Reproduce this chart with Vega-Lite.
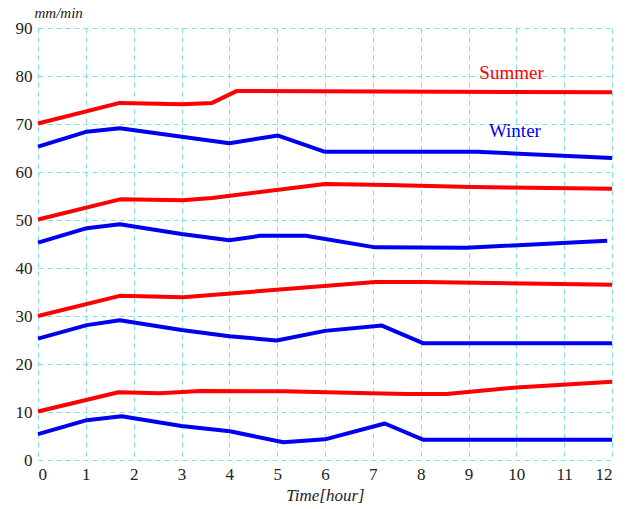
{
  "$schema": "https://vega.github.io/schema/vega-lite/v6.json",
  "width": 574,
  "height": 432,
  "autosize": {"type": "none"},
  "padding": {"left": 38, "top": 28, "right": 17, "bottom": 49},
  "background": "white",
  "config": {
    "view": {"stroke": null},
    "axis": {
      "grid": true,
      "gridColor": "#7fe0e0",
      "gridDash": [5, 4],
      "gridWidth": 1,
      "domain": false,
      "ticks": false
    }
  },
  "datasets": {
    "lines": [
      {"series": "S1", "season": "Summer", "x": 0, "y": 70.1},
      {"series": "S1", "season": "Summer", "x": 1.71, "y": 74.4},
      {"series": "S1", "season": "Summer", "x": 3.03, "y": 74.1},
      {"series": "S1", "season": "Summer", "x": 3.64, "y": 74.4},
      {"series": "S1", "season": "Summer", "x": 4.16, "y": 76.9},
      {"series": "S1", "season": "Summer", "x": 12, "y": 76.6},
      {"series": "W1", "season": "Winter", "x": 0, "y": 65.3},
      {"series": "W1", "season": "Winter", "x": 1.02, "y": 68.4},
      {"series": "W1", "season": "Winter", "x": 1.71, "y": 69.1},
      {"series": "W1", "season": "Winter", "x": 4.0, "y": 66.0},
      {"series": "W1", "season": "Winter", "x": 5.02, "y": 67.6},
      {"series": "W1", "season": "Winter", "x": 6.0, "y": 64.2},
      {"series": "W1", "season": "Winter", "x": 9.18, "y": 64.2},
      {"series": "W1", "season": "Winter", "x": 12, "y": 62.9},
      {"series": "S2", "season": "Summer", "x": 0, "y": 50.1},
      {"series": "S2", "season": "Summer", "x": 1.71, "y": 54.3},
      {"series": "S2", "season": "Summer", "x": 3.03, "y": 54.1},
      {"series": "S2", "season": "Summer", "x": 3.64, "y": 54.6},
      {"series": "S2", "season": "Summer", "x": 6.0, "y": 57.5},
      {"series": "S2", "season": "Summer", "x": 7.3, "y": 57.3},
      {"series": "S2", "season": "Summer", "x": 9.07, "y": 56.9},
      {"series": "S2", "season": "Summer", "x": 12, "y": 56.5},
      {"series": "W2", "season": "Winter", "x": 0, "y": 45.3},
      {"series": "W2", "season": "Winter", "x": 1.02, "y": 48.3},
      {"series": "W2", "season": "Winter", "x": 1.71, "y": 49.1},
      {"series": "W2", "season": "Winter", "x": 3.0, "y": 47.1},
      {"series": "W2", "season": "Winter", "x": 4.0, "y": 45.8},
      {"series": "W2", "season": "Winter", "x": 4.64, "y": 46.7},
      {"series": "W2", "season": "Winter", "x": 5.6, "y": 46.7},
      {"series": "W2", "season": "Winter", "x": 7.05, "y": 44.3},
      {"series": "W2", "season": "Winter", "x": 8.96, "y": 44.2},
      {"series": "W2", "season": "Winter", "x": 11.9, "y": 45.7},
      {"series": "S3", "season": "Summer", "x": 0, "y": 30.0},
      {"series": "S3", "season": "Summer", "x": 1.71, "y": 34.2},
      {"series": "S3", "season": "Summer", "x": 3.03, "y": 33.9},
      {"series": "S3", "season": "Summer", "x": 7.05, "y": 37.1},
      {"series": "S3", "season": "Summer", "x": 8.05, "y": 37.1},
      {"series": "S3", "season": "Summer", "x": 12, "y": 36.5},
      {"series": "W3", "season": "Winter", "x": 0, "y": 25.3},
      {"series": "W3", "season": "Winter", "x": 1.02, "y": 28.1},
      {"series": "W3", "season": "Winter", "x": 1.71, "y": 29.1},
      {"series": "W3", "season": "Winter", "x": 3.0, "y": 27.1},
      {"series": "W3", "season": "Winter", "x": 4.0, "y": 25.8},
      {"series": "W3", "season": "Winter", "x": 4.99, "y": 24.9},
      {"series": "W3", "season": "Winter", "x": 6.0, "y": 26.9},
      {"series": "W3", "season": "Winter", "x": 7.19, "y": 28.0},
      {"series": "W3", "season": "Winter", "x": 8.06, "y": 24.3},
      {"series": "W3", "season": "Winter", "x": 12, "y": 24.3},
      {"series": "S4", "season": "Summer", "x": 0, "y": 10.1},
      {"series": "S4", "season": "Summer", "x": 1.68, "y": 14.1},
      {"series": "S4", "season": "Summer", "x": 2.55, "y": 13.9},
      {"series": "S4", "season": "Summer", "x": 3.39, "y": 14.4},
      {"series": "S4", "season": "Summer", "x": 5.13, "y": 14.3},
      {"series": "S4", "season": "Summer", "x": 6.94, "y": 13.9},
      {"series": "S4", "season": "Summer", "x": 7.74, "y": 13.75},
      {"series": "S4", "season": "Summer", "x": 8.54, "y": 13.75},
      {"series": "S4", "season": "Summer", "x": 10.0, "y": 15.1},
      {"series": "S4", "season": "Summer", "x": 12, "y": 16.3},
      {"series": "W4", "season": "Winter", "x": 0, "y": 5.4},
      {"series": "W4", "season": "Winter", "x": 1.02, "y": 8.3},
      {"series": "W4", "season": "Winter", "x": 1.75, "y": 9.1},
      {"series": "W4", "season": "Winter", "x": 3.0, "y": 7.1},
      {"series": "W4", "season": "Winter", "x": 4.01, "y": 6.0},
      {"series": "W4", "season": "Winter", "x": 5.13, "y": 3.7},
      {"series": "W4", "season": "Winter", "x": 6.0, "y": 4.3},
      {"series": "W4", "season": "Winter", "x": 7.25, "y": 7.6},
      {"series": "W4", "season": "Winter", "x": 8.06, "y": 4.2},
      {"series": "W4", "season": "Winter", "x": 12, "y": 4.2}
    ],
    "labels": [
      {"label": "Summer", "season": "Summer", "x": 9.9, "y": 80.6},
      {"label": "Winter", "season": "Winter", "x": 9.97, "y": 68.5}
    ]
  },
  "layer": [
    {
      "data": {"name": "lines"},
      "mark": {"type": "line", "strokeWidth": 4, "strokeJoin": "round", "strokeCap": "butt"},
      "encoding": {
        "x": {
          "field": "x", "type": "quantitative",
          "scale": {"domain": [0, 12], "nice": false, "zero": false},
          "axis": {
            "values": [0,1,2,3,4,5,6,7,8,9,10,11,12],
            "labelFont": "Liberation Serif", "labelFontSize": 17, "labelColor": "#222222", "labelPadding": 6,
            "title": "Time[hour]", "titleFont": "Liberation Serif", "titleFontStyle": "italic", "titleFontWeight": "normal",
            "titleFontSize": 17, "titleColor": "#222222", "titlePadding": 5
          }
        },
        "y": {
          "field": "y", "type": "quantitative",
          "scale": {"domain": [0, 90], "nice": false},
          "axis": {
            "values": [0,10,20,30,40,50,60,70,80,90],
            "labelFont": "Liberation Serif", "labelFontSize": 17, "labelColor": "#222222", "labelPadding": 6,
            "title": "mm/min", "titleFont": "Liberation Serif", "titleFontStyle": "italic", "titleFontWeight": "normal",
            "titleFontSize": 15, "titleColor": "#222222",
            "titleAngle": 0, "titleAlign": "left", "titleBaseline": "alphabetic", "titleX": -4, "titleY": -11
          }
        },
        "detail": {"field": "series"},
        "color": {
          "field": "season", "type": "nominal",
          "scale": {"domain": ["Summer", "Winter"], "range": ["#ff0000", "#0000ee"]},
          "legend": null
        }
      }
    },
    {
      "data": {"name": "labels"},
      "mark": {"type": "text", "font": "Liberation Serif", "fontSize": 19, "align": "center", "baseline": "middle"},
      "encoding": {
        "x": {"field": "x", "type": "quantitative"},
        "y": {"field": "y", "type": "quantitative"},
        "text": {"field": "label"},
        "color": {"field": "season", "type": "nominal", "legend": null}
      }
    }
  ]
}
